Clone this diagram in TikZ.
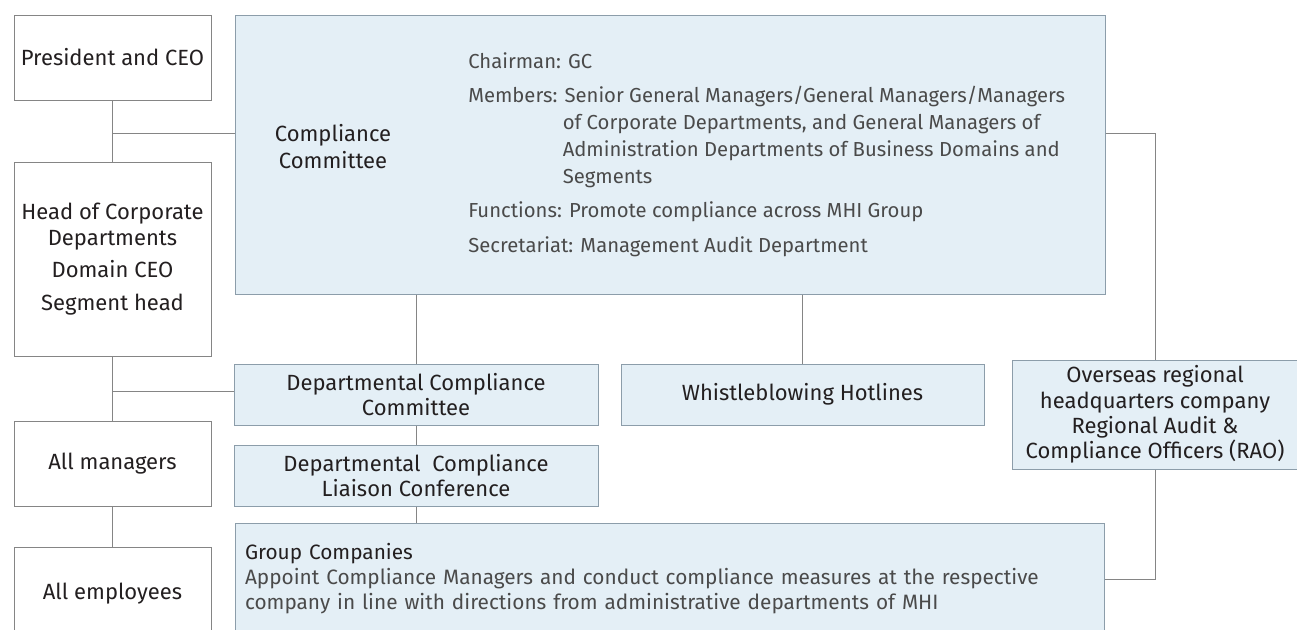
\documentclass[tikz,border=0pt]{standalone}
\usepackage{fontspec}
\setmainfont{Fira Sans}
\usetikzlibrary{positioning,calc}
\definecolor{boxblue}{HTML}{E4EFF6}
\definecolor{boxedge}{HTML}{8C9DAA}
\definecolor{lineclr}{HTML}{858585}
\definecolor{txtdark}{HTML}{231F20}
\definecolor{txtgray}{HTML}{4A4A4A}

\begin{document}
\begin{tikzpicture}[
    x=0.75pt, y=-0.75pt,
    boxsize/.style 2 args={minimum width=#1*0.75pt, minimum height=#2*0.75pt},
    orgbox/.style={draw=lineclr, line width=0.75pt, fill=white, text=txtdark, align=center, inner sep=0pt, font=\fontsize{16.5}{19.5}\selectfont},
    cbox/.style={draw=boxedge, line width=0.75pt, fill=boxblue, text=txtdark, align=center, inner sep=0pt, font=\fontsize{16.5}{19}\selectfont},
    link/.style={draw=lineclr, line width=0.75pt},
  ]
  \clip (0,0) rectangle (1297,629);

  % ========= LEFT: HIERARCHY =========
  \node[orgbox, boxsize={197}{85}] (ceo) at (112.5,57.5) {President and CEO};
  \node[orgbox, boxsize={197}{194}] (head) at (112.5,259) {Head of Corporate\\Departments\\[5pt]Domain CEO\\[5pt]Segment head};
  \node[orgbox, boxsize={197}{85}] (allmgr) at (112.5,463.5) {All managers};
  \node[orgbox, boxsize={197}{93}] (allemp) at (112.5,593.5) {All employees};

  % ========= COMPLIANCE COMMITTEE =========
  \node[cbox, boxsize={870}{279}] (cc) at (670,154.5) {};
  \node[align=center, inner sep=0pt, text=txtdark, font=\fontsize{16.5}{20}\selectfont] (ccname) at (333,146.5) {Compliance\\Committee};
  \node[anchor=west, align=left, inner sep=0pt, text=txtgray, font=\fontsize{15.2}{20.25}\selectfont] (ccinfo) at (468,154.5) {Chairman: GC\\[5.5pt]
    Members: Senior General Managers/General Managers/Managers\\
    \phantom{Members:\ }of Corporate Departments, and General Managers of\\
    \phantom{Members:\ }Administration Departments of Business Domains and\\
    \phantom{Members:\ }Segments\\[5.5pt]
    Functions: Promote compliance across MHI Group\\[5.5pt]
    Secretariat: Management Audit Department};

  % ========= LOWER BOXES =========
  \node[cbox, boxsize={364}{61}] (dcc) at (416,394.5) {Departmental Compliance\\Committee};
  \node[cbox, boxsize={364}{61}] (dlc) at (416,475.5) {Departmental\ \ Compliance\\Liaison Conference};
  \node[cbox, boxsize={363}{61}] (wb) at (802.5,394.5) {Whistleblowing Hotlines};
  \node[cbox, boxsize={286}{109}] (rao) at (1155,414.5) {Overseas regional\\headquarters company\\Regional Audit \&\\Compliance Officers (RAO)};
  \node[cbox, boxsize={869}{112}, align=left, text width=849*0.75pt, inner xsep=10*0.75pt, text=txtgray, font=\fontsize{15.6}{18.75}\selectfont] (gc) at (669.5,579) {\textcolor{txtdark}{Group Companies}\\
    Appoint Compliance Managers and conduct compliance measures at the respective\\
    company in line with directions from administrative departments of MHI};

  % junctions
  \coordinate (j1) at (112.5,133);
  \coordinate (j2) at (112.5,391);

  % Connectors
  \draw[link] (ceo.south) -- (head.north);
  \draw[link] (j1) -- (j1 -| cc.west);
  \draw[link] (head.south) -- (allmgr.north);
  \draw[link] (j2) -- (j2 -| dcc.west);
  \draw[link] (allmgr.south) -- (allemp.north);
  \draw[link] (cc.south -| dcc.north) -- (dcc.north);
  \draw[link] (dcc.south) -- (dlc.north);
  \draw[link] (dlc.south) -- (dlc.south |- gc.north);
  \draw[link] (wb.north |- cc.south) -- (wb.north);
  \draw[link] (cc.east |- j1) -| (rao.north);
  \draw[link] (rao.south) |- (gc.east);
\end{tikzpicture}
\end{document}
